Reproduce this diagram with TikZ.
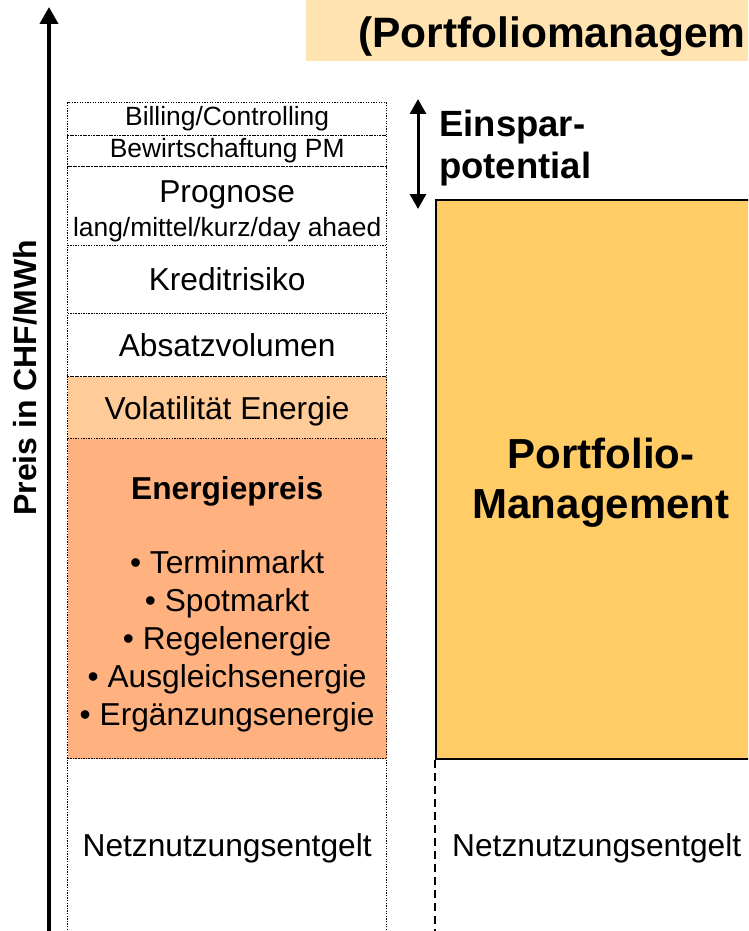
\documentclass[tikz,border=0pt]{standalone}
\usepackage{fontspec}
\setmainfont{Liberation Sans}
\usetikzlibrary{arrows.meta}
\definecolor{titlebg}{HTML}{FFE4B2}
\definecolor{volfill}{HTML}{FFCC99}
\definecolor{enfill}{HTML}{FFB280}
\definecolor{pmfill}{HTML}{FFCC66}
\newcommand\fsN{\fontsize{31.7pt}{38pt}\selectfont}
\newcommand\fsS{\fontsize{26.4pt}{36pt}\selectfont}
\newcommand\fsB{\bfseries\fontsize{36.5pt}{42pt}\selectfont}
\newcommand\fsP{\bfseries\fontsize{42pt}{50pt}\selectfont}
\newcommand\fsT{\bfseries\fontsize{42.5pt}{48pt}\selectfont}
\begin{document}
\begin{tikzpicture}[x=1pt,y=-1pt,
  rowbox/.style={draw, line width=1.3pt, dash pattern=on 1.3pt off 1.3pt,
    minimum width=319pt, inner sep=0pt, anchor=north west, align=center, font=\fsN},
  axisline/.style={line width=4pt, -{Triangle[width=18pt,length=17pt]}},
  spanarrow/.style={line width=3pt, {Triangle[width=16pt,length=15pt]}-{Triangle[width=16pt,length=15pt]}},
  pmbox/.style={draw, line width=2pt, fill=pmfill, anchor=north west, inner sep=0pt,
    minimum width=330pt, minimum height=559pt, align=center, font=\fsP},
  plain/.style={inner sep=0pt, font=\fsN}]
\clip (0,0) rectangle (748,931);
\fill[white] (0,0) rectangle (748,931);
% title
\fill[titlebg] (306,0) rectangle (760,61);
\node[inner sep=0pt, anchor=base west, font=\fsT] (title) at (358,48) {(Portfoliomanagem};
% axis
\coordinate (axbot) at (49,940);
\coordinate (axtop) at (49,7);
\draw[axisline] (axbot) -- (axtop);
\node[rotate=90, inner sep=0pt, font=\bfseries\fontsize{32pt}{38pt}\selectfont] (ylab) at (25,378) {Preis in CHF/MWh};
% left column
\node[rowbox, minimum height=33pt, font=\fsS] (r1) at (67,102) {Billing/Controlling};
\node[rowbox, minimum height=31pt, font=\fsS] (r2) at (67,135) {Bewirtschaftung PM};
\node[rowbox, minimum height=79pt, font=\fsS] (r3) at (67,166) {\rule{0pt}{32pt}\fsN Prognose\\[-2pt]\fsS lang/mittel/kurz/day ahaed};
\node[rowbox, minimum height=68pt] (r4) at (67,245) {Kreditrisiko};
\node[rowbox, minimum height=63pt] (r5) at (67,313) {Absatzvolumen};
\node[rowbox, minimum height=62pt, fill=volfill] (r6) at (67,376) {\rule{0pt}{30pt}Volatilität Energie};
\node[rowbox, minimum height=320pt, fill=enfill] (r7) at (67,438)
  {\rule{0pt}{35pt}\textbf{Energiepreis}\\[36pt]• Terminmarkt\\• Spotmarkt\\• Regelenergie\\• Ausgleichsenergie\\• Ergänzungsenergie};
\node[rowbox, minimum height=180pt] (r8) at (67,758) {Netznutzungsentgelt};
% savings arrow
\coordinate (ea1) at (418,99);
\coordinate (ea2) at (418,209);
\draw[spanarrow] (ea1) -- (ea2);
\node[inner sep=0pt, anchor=west, align=left, font=\fsB] (ein) at (439,148) {Einspar-\\potential};
% portfolio management box
\node[pmbox] (pm) at (435,199) {\rule{0pt}{36pt}Portfolio-\\Management};
\coordinate (dashend) at (435,940);
\draw[line width=2pt, dash pattern=on 8pt off 5pt] (pm.south west) -- (dashend);
\node[plain, anchor=west] (netz2) at (452,848) {Netznutzungsentgelt};
\end{tikzpicture}
\end{document}
